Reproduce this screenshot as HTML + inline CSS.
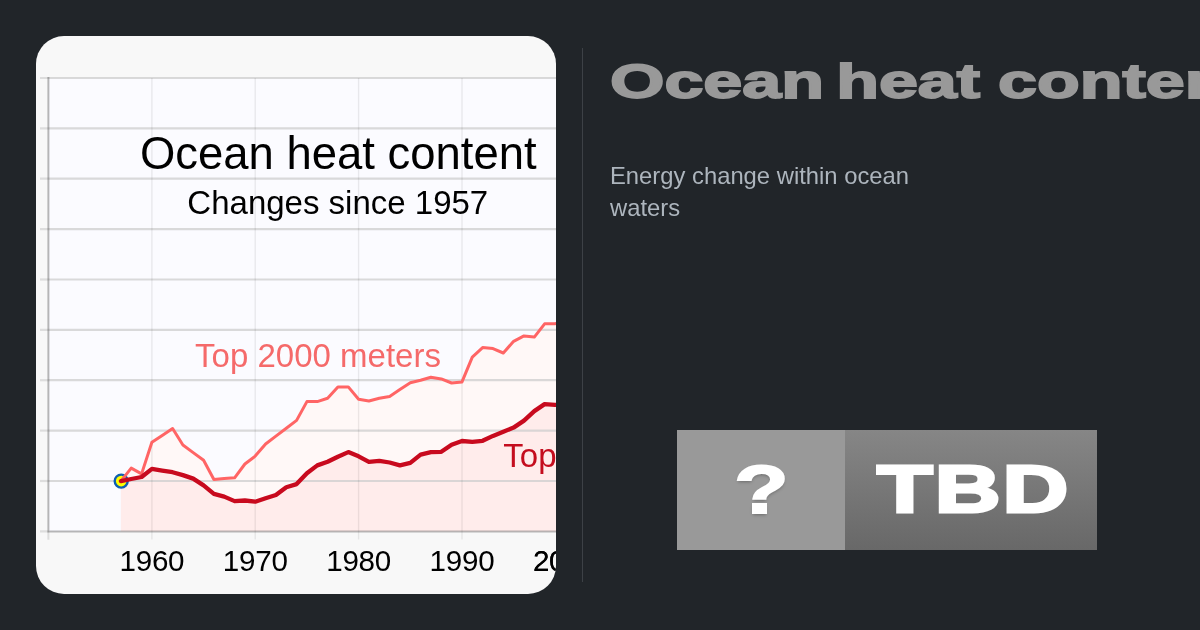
<!DOCTYPE html>
<html lang="en"><head><meta charset="utf-8"><title>Ocean heat content</title>
<style>
html,body{margin:0;padding:0}
body{width:1200px;height:630px;background:#212529;overflow:hidden;position:relative;font-family:"Liberation Sans",sans-serif}
.card{position:absolute;left:36px;top:36px;width:520px;height:558px;border-radius:28px;overflow:hidden;background:#f8f8f8}
.card svg{display:block;font-family:"Liberation Sans",sans-serif}
.divider{position:absolute;left:582px;top:48px;width:1px;height:534px;background:#3d4146}
.title{position:absolute;left:610px;top:51px;margin:0;white-space:nowrap;font-weight:bold;font-size:48.5px;line-height:60px;color:#999;-webkit-text-stroke:1.8px #999;word-spacing:-5px;transform-origin:0 50%;transform:scaleX(1.443)}
.desc{position:absolute;left:610px;top:160px;margin:0;width:330px;font-size:23.8px;line-height:32px;color:#adb5bd}
.badge{position:absolute;left:677px;top:430px;width:420px;height:120px;display:flex}
.q{width:168px;height:120px;background:#999;position:relative}
.t{width:252px;height:120px;background:linear-gradient(#868686,#686868);position:relative}
.q span,.t span{position:absolute;left:0;top:0;color:#fff;font-weight:bold;white-space:nowrap;transform-origin:0 0}
.q span{font-size:69px;line-height:68px;left:57px;top:26px;transform:scaleX(1.3);-webkit-text-stroke:1.8px #fff;text-shadow:0 2px 3px rgba(0,0,0,.3)}
.t span{font-size:67.5px;line-height:68px;left:32px;top:24.5px;transform:scaleX(1.35);-webkit-text-stroke:3px #fff;letter-spacing:1.5px}
</style></head><body>
<div class="card"><svg width="520" height="558" viewBox="36 36 520 558">
<rect x="48.7" y="78.0" width="520" height="453.3" fill="#fbfbff"/>
<polygon points="120.9,531.3 120.9,481.1 131.2,468.1 141.6,473.9 151.9,442.3 162.2,435.4 172.6,428.5 182.9,445.0 193.2,452.6 203.6,460.3 213.9,479.5 224.2,478.6 234.6,477.8 244.9,464.0 255.2,456.1 265.6,444.0 275.9,436.1 286.3,428.3 296.6,420.4 306.9,401.6 317.3,401.6 327.6,398.3 337.9,386.9 348.3,386.9 358.6,399.3 368.9,401.0 379.3,398.3 389.6,396.4 399.9,389.6 410.3,382.8 420.6,380.3 430.9,377.2 441.3,378.9 451.6,383.0 462.0,381.9 472.3,357.1 482.6,347.6 493.0,348.6 503.3,353.0 513.6,341.3 524.0,335.9 534.3,337.1 544.6,323.8 555.0,323.8 565.3,321.0 565.3,531.3" fill="#fff8f7"/>
<polygon points="120.9,531.3 120.9,481.1 131.2,479.0 141.6,477.0 151.9,468.9 162.2,470.6 172.6,472.2 182.9,475.1 193.2,478.6 203.6,485.4 213.9,493.9 224.2,496.6 234.6,501.1 244.9,500.5 255.2,501.7 265.6,498.2 275.9,495.0 286.3,487.2 296.6,484.1 306.9,473.2 317.3,465.4 327.6,461.8 337.9,456.7 348.3,452.1 358.6,456.3 368.9,461.8 379.3,460.8 389.6,462.5 399.9,465.4 410.3,462.9 420.6,454.6 430.9,452.1 441.3,451.8 451.6,444.8 462.0,441.0 472.3,441.9 482.6,440.8 493.0,435.9 503.3,431.7 513.6,427.6 524.0,420.6 534.3,411.1 544.6,404.1 555.0,404.8 565.3,405.5 565.3,531.3" fill="#ffeceb"/>
<line x1="40" x2="48.7" y1="78.0" y2="78.0" stroke="#cccccc" stroke-opacity="0.6" stroke-width="2.2"/>
<line x1="48.7" x2="600" y1="78.0" y2="78.0" stroke="#cccccc" stroke-opacity="0.72" stroke-width="2.2"/>
<line x1="40" x2="48.7" y1="128.4" y2="128.4" stroke="#cccccc" stroke-opacity="0.6" stroke-width="2.2"/>
<line x1="48.7" x2="600" y1="128.4" y2="128.4" stroke="#cccccc" stroke-opacity="0.72" stroke-width="2.2"/>
<line x1="40" x2="48.7" y1="178.7" y2="178.7" stroke="#cccccc" stroke-opacity="0.6" stroke-width="2.2"/>
<line x1="48.7" x2="600" y1="178.7" y2="178.7" stroke="#cccccc" stroke-opacity="0.72" stroke-width="2.2"/>
<line x1="40" x2="48.7" y1="229.1" y2="229.1" stroke="#cccccc" stroke-opacity="0.6" stroke-width="2.2"/>
<line x1="48.7" x2="600" y1="229.1" y2="229.1" stroke="#cccccc" stroke-opacity="0.72" stroke-width="2.2"/>
<line x1="40" x2="48.7" y1="279.5" y2="279.5" stroke="#cccccc" stroke-opacity="0.6" stroke-width="2.2"/>
<line x1="48.7" x2="600" y1="279.5" y2="279.5" stroke="#cccccc" stroke-opacity="0.72" stroke-width="2.2"/>
<line x1="40" x2="48.7" y1="329.9" y2="329.9" stroke="#cccccc" stroke-opacity="0.6" stroke-width="2.2"/>
<line x1="48.7" x2="600" y1="329.9" y2="329.9" stroke="#cccccc" stroke-opacity="0.72" stroke-width="2.2"/>
<line x1="40" x2="48.7" y1="380.2" y2="380.2" stroke="#cccccc" stroke-opacity="0.6" stroke-width="2.2"/>
<line x1="48.7" x2="600" y1="380.2" y2="380.2" stroke="#cccccc" stroke-opacity="0.72" stroke-width="2.2"/>
<line x1="40" x2="48.7" y1="430.6" y2="430.6" stroke="#cccccc" stroke-opacity="0.6" stroke-width="2.2"/>
<line x1="48.7" x2="600" y1="430.6" y2="430.6" stroke="#cccccc" stroke-opacity="0.72" stroke-width="2.2"/>
<line x1="40" x2="48.7" y1="481.0" y2="481.0" stroke="#cccccc" stroke-opacity="0.6" stroke-width="2.2"/>
<line x1="48.7" x2="600" y1="481.0" y2="481.0" stroke="#cccccc" stroke-opacity="0.72" stroke-width="2.2"/>
<line x1="40" x2="48.7" y1="531.3" y2="531.3" stroke="#cccccc" stroke-opacity="0.6" stroke-width="2.2"/>
<line y1="78.0" y2="539.5" x1="151.9" x2="151.9" stroke="#000" stroke-opacity="0.075" stroke-width="1.4"/>
<line y1="78.0" y2="539.5" x1="255.2" x2="255.2" stroke="#000" stroke-opacity="0.075" stroke-width="1.4"/>
<line y1="78.0" y2="539.5" x1="358.6" x2="358.6" stroke="#000" stroke-opacity="0.075" stroke-width="1.4"/>
<line y1="78.0" y2="539.5" x1="462.0" x2="462.0" stroke="#000" stroke-opacity="0.075" stroke-width="1.4"/>
<line y1="78.0" y2="539.5" x1="565.3" x2="565.3" stroke="#000" stroke-opacity="0.075" stroke-width="1.4"/>
<line y1="531.3" y2="539.7" x1="48.4" x2="48.4" stroke="#cccccc" stroke-opacity="0.6" stroke-width="2"/>
<path d="M48.4,76.9 V531.4 H600" fill="none" stroke="#000" stroke-opacity="0.27" stroke-width="2"/>
<circle cx="121.2" cy="481.1" r="6.5" fill="#ffff00" stroke="#0f5fb0" stroke-width="2.4"/>
<polyline points="120.9,481.1 131.2,468.1 141.6,473.9 151.9,442.3 162.2,435.4 172.6,428.5 182.9,445.0 193.2,452.6 203.6,460.3 213.9,479.5 224.2,478.6 234.6,477.8 244.9,464.0 255.2,456.1 265.6,444.0 275.9,436.1 286.3,428.3 296.6,420.4 306.9,401.6 317.3,401.6 327.6,398.3 337.9,386.9 348.3,386.9 358.6,399.3 368.9,401.0 379.3,398.3 389.6,396.4 399.9,389.6 410.3,382.8 420.6,380.3 430.9,377.2 441.3,378.9 451.6,383.0 462.0,381.9 472.3,357.1 482.6,347.6 493.0,348.6 503.3,353.0 513.6,341.3 524.0,335.9 534.3,337.1 544.6,323.8 555.0,323.8 565.3,321.0" fill="none" stroke="#ff6565" stroke-width="3" stroke-linejoin="round" stroke-linecap="round"/>
<polyline points="120.9,481.1 131.2,479.0 141.6,477.0 151.9,468.9 162.2,470.6 172.6,472.2 182.9,475.1 193.2,478.6 203.6,485.4 213.9,493.9 224.2,496.6 234.6,501.1 244.9,500.5 255.2,501.7 265.6,498.2 275.9,495.0 286.3,487.2 296.6,484.1 306.9,473.2 317.3,465.4 327.6,461.8 337.9,456.7 348.3,452.1 358.6,456.3 368.9,461.8 379.3,460.8 389.6,462.5 399.9,465.4 410.3,462.9 420.6,454.6 430.9,452.1 441.3,451.8 451.6,444.8 462.0,441.0 472.3,441.9 482.6,440.8 493.0,435.9 503.3,431.7 513.6,427.6 524.0,420.6 534.3,411.1 544.6,404.1 555.0,404.8 565.3,405.5" fill="none" stroke="#c80a1e" stroke-width="4.3" stroke-linejoin="round" stroke-linecap="round"/>
<text x="338.3" y="168.6" font-size="45.45" text-anchor="middle" fill="#000">Ocean heat content</text>
<text x="337.8" y="213.6" font-size="33" text-anchor="middle" fill="#000">Changes since 1957</text>
<text x="318" y="367.3" font-size="33" text-anchor="middle" fill="#f56a6a">Top 2000 meters</text>
<text x="503.3" y="466.9" font-size="33" fill="#c40d1e">Top 700 meters</text>
<text x="151.9" y="570.5" font-size="29.6" letter-spacing="-0.25" text-anchor="middle" fill="#000">1960</text>
<text x="255.2" y="570.5" font-size="29.6" letter-spacing="-0.25" text-anchor="middle" fill="#000">1970</text>
<text x="358.6" y="570.5" font-size="29.6" letter-spacing="-0.25" text-anchor="middle" fill="#000">1980</text>
<text x="462.0" y="570.5" font-size="29.6" letter-spacing="-0.25" text-anchor="middle" fill="#000">1990</text>
<text x="565.3" y="570.5" font-size="29.6" letter-spacing="-0.25" text-anchor="middle" fill="#000">2000</text>
<text x="565.3" y="570.5" font-size="29.6" letter-spacing="-0.25" text-anchor="middle" fill="#000">2010</text>
</svg></div>
<div class="divider"></div>
<h1 class="title">Ocean heat <span style="margin-left:4px">content</span></h1>
<p class="desc">Energy change within ocean waters</p>
<div class="badge"><div class="q"><span>?</span></div><div class="t"><span>TBD</span></div></div>
</body></html>
